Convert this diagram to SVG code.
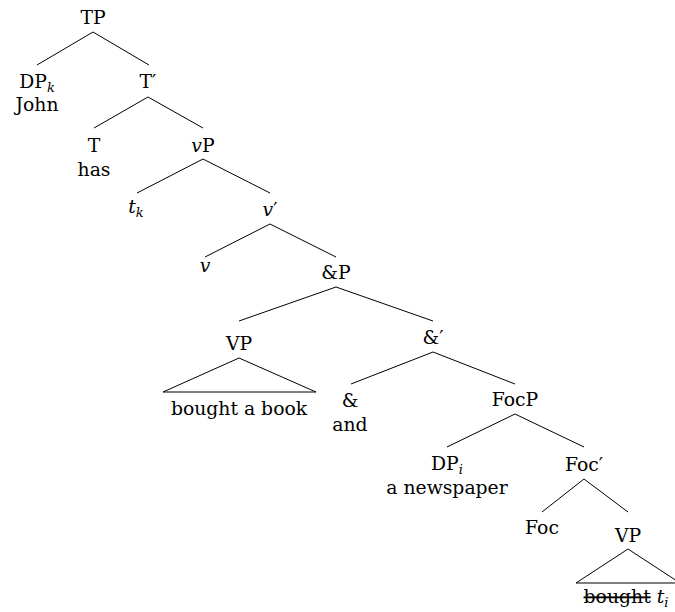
<svg xmlns="http://www.w3.org/2000/svg" width="675" height="612" viewBox="0 0 675 612">
  <style>
    text { font-family: "DejaVu Serif", "Liberation Serif", serif; font-size: 18.8px; fill: #000; text-anchor: middle; }
    .it { font-style: italic; }
    .sub { font-size: 13px; font-style: italic; }
    .edge { stroke: #000; stroke-width: 1; fill: none; }
    .strike { text-decoration: line-through; }
  </style>
  <rect width="675" height="612" fill="#fff"/>

  <!-- branches -->
  <g id="connectors">
    <path class="edge" d="M93,32 L37,65 M93,32 L149,65"/>
    <path class="edge" d="M148,97 L94,128 M148,97 L203,128"/>
    <path class="edge" d="M203,159 L137,193 M203,159 L270,193"/>
    <path class="edge" d="M270,224 L205,257 M270,224 L336,257"/>
    <path class="edge" d="M336,287 L239,321 M336,287 L433,321"/>
    <path class="edge" d="M433,352 L351,384 M433,352 L515,384"/>
    <path class="edge" d="M515,414 L447,447 M515,414 L584,447"/>
    <path class="edge" d="M584,479 L542,512 M584,479 L628,512"/>
    <!-- roof triangles over unanalysed constituents -->
    <path class="edge" d="M239,358 L163,392 L316,392 Z"/>
    <path class="edge" d="M628,549 L576,583 L680,583 Z"/>
  </g>

  <g id="TP"><text x="93" y="24">TP</text></g>
  <g id="DPk">
    <text x="37" y="88">DP<tspan class="sub" dy="4">k</tspan></text>
    <text x="37" y="111">John</text>
  </g>
  <g id="Tbar"><text x="148" y="88">T′</text></g>
  <g id="T">
    <text x="94" y="152">T</text>
    <text x="94" y="176">has</text>
  </g>
  <g id="vP"><text x="203" y="152"><tspan class="it">v</tspan>P</text></g>
  <g id="tk"><text x="136" y="213"><tspan class="it">t</tspan><tspan class="sub" dy="4">k</tspan></text></g>
  <g id="vbar"><text x="270" y="216"><tspan class="it">v</tspan>′</text></g>
  <g id="v"><text class="it" x="205" y="272">v</text></g>
  <g id="andP"><text x="336" y="279">&amp;P</text></g>
  <g id="VP1">
    <text x="239" y="350">VP</text>
    <text x="239" y="415">bought a book</text>
  </g>
  <g id="andbar"><text x="433" y="344">&amp;′</text></g>
  <g id="and">
    <text x="350" y="407">&amp;</text>
    <text x="350" y="431">and</text>
  </g>
  <g id="FocP"><text x="515" y="406">FocP</text></g>
  <g id="DPi">
    <text x="447" y="470">DP<tspan class="sub" dy="4">i</tspan></text>
    <text x="447" y="494">a newspaper</text>
  </g>
  <g id="Focbar"><text x="584" y="471">Foc′</text></g>
  <g id="Foc"><text x="542" y="534">Foc</text></g>
  <g id="VP2">
    <text x="628" y="542">VP</text>
    <text x="626" y="603"><tspan class="strike">bought</tspan> <tspan class="it">t</tspan><tspan class="sub" dy="4">i</tspan></text>
  </g>
</svg>
